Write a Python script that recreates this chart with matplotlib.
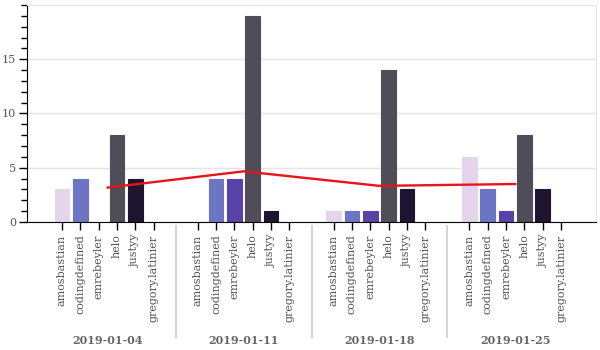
import matplotlib.pyplot as plt
from matplotlib.ticker import MultipleLocator
import matplotlib.transforms as mtransforms

# data
weeks = ['2019-01-04', '2019-01-11', '2019-01-18', '2019-01-25']
users = ['amosbastian', 'codingdefined', 'emrebeyler', 'helo', 'justyy', 'gregory.latinier']
counts = {
    'amosbastian':      [3, 0, 1, 6],
    'codingdefined':    [4, 4, 1, 3],
    'emrebeyler':       [0, 4, 1, 1],
    'helo':             [8, 19, 14, 8],
    'justyy':           [4, 1, 3, 3],
    'gregory.latinier': [0, 0, 0, 0],
}
week_avg = [3.17, 4.67, 3.33, 3.5]
colours = ['#e3d5ea', '#6c74c4', '#5842a8', '#4f4d57', '#201530', '#ffffff']

group_pad = 1.4
n = len(users)

plt.rcParams['font.family'] = ['DejaVu Serif']
fig = plt.figure(figsize=(6, 3.5), dpi=100)
ax = fig.add_axes([27 / 600, 1 - 222 / 350, 569 / 600, 217 / 350])

xpos, xlab = [], []
for g, week in enumerate(weeks):
    for i, user in enumerate(users):
        x = g * (n + group_pad) + i
        xpos.append(x)
        xlab.append(user)
        v = counts[user][g]
        if v > 0:
            ax.bar(x, v, width=0.8, color=colours[i], edgecolor=colours[i],
                   linewidth=0.8, zorder=2)

centers = [g * (n + group_pad) + (n - 1) / 2 for g in range(len(weeks))]
ax.plot(centers, week_avg, color='#e8141c', lw=1.7, zorder=3)

ax.set_xlim(-0.5 - group_pad, (len(weeks) - 1) * (n + group_pad) + n - 0.5 + group_pad)
ax.set_ylim(0, 20)

ax.set_xticks(xpos)
ax.set_xticklabels(xlab, rotation=90, fontsize=8, color='#555555')
ax.tick_params(axis='x', length=6, width=1, pad=3)
ax.yaxis.set_major_locator(MultipleLocator(5))
ax.yaxis.set_minor_locator(MultipleLocator(1))
ax.tick_params(axis='y', which='major', length=6, width=1, labelsize=8,
               labelcolor='#555555', pad=2)
ax.tick_params(axis='y', which='minor', length=4, width=1)
ax.set_yticks([0, 5, 10, 15])

ax.grid(axis='y', color='#e5e5e5', lw=1, zorder=0)
for side in ['top', 'right']:
    ax.spines[side].set_color('#e5e5e5')
for side in ['left', 'bottom']:
    ax.spines[side].set_color('black')

trans = mtransforms.blended_transform_factory(ax.transData, ax.transAxes)
for g, week in enumerate(weeks):
    ax.text(centers[g], -0.545, week, transform=trans, ha='center', va='center',
            fontsize=8, fontweight='bold', color='#666666')
    if g > 0:
        sx = g * (n + group_pad) - (1 + group_pad) / 2
        ax.plot([sx, sx], [-0.02, -0.53], transform=trans, color='#d6d6d6',
                lw=1.5, clip_on=False)

fig.savefig('out.png', dpi=100)
